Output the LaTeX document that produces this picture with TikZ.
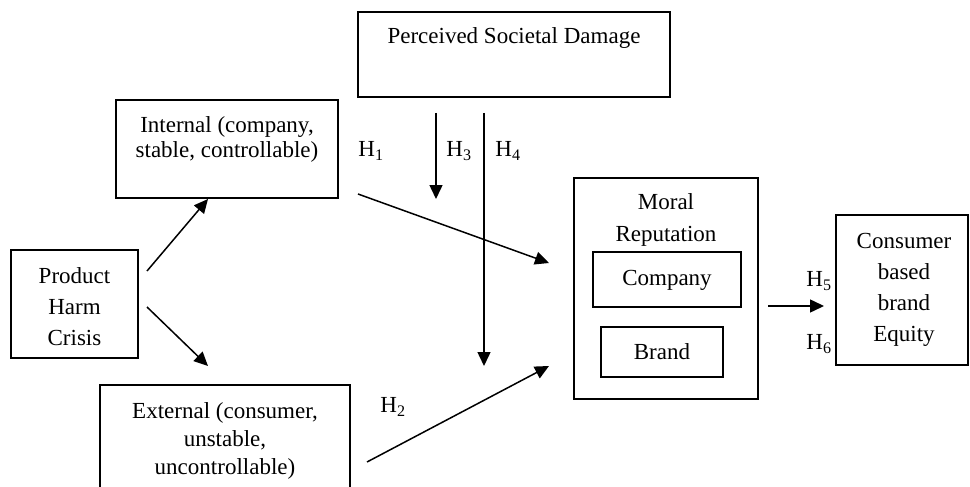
\documentclass[tikz,border=0pt]{standalone}
\usepackage{fontspec}
\setmainfont{Liberation Serif}
\usetikzlibrary{arrows.meta}
\begin{document}
\begin{tikzpicture}[x=1pt,y=-1pt,
  box/.style={draw,line width=1.5pt,inner sep=0pt},
  txt/.style={inner sep=0pt,align=center,font=\fontsize{23}{#1}\selectfont},
  txt/.default=27,
  hlab/.style={inner sep=0pt,font=\fontsize{23}{27}\selectfont},
  arr/.style={line width=1.5pt,-{Triangle[length=14pt,width=13pt]}}]
\clip (0,0) rectangle (970,487);
% boxes
\node[box,minimum width=312pt,minimum height=85pt] (psd) at (514,54.5) {};
\node[txt] (psdT) at (514,38) {Perceived Societal Damage};
\node[box,minimum width=222pt,minimum height=98pt] (int) at (227,149) {};
\node[txt=25] (intT) at (227,139) {Internal (company,\\stable, controllable)};
\node[box,minimum width=127pt,minimum height=108pt] (prod) at (74.5,304) {};
\node[txt=31] (prodT) at (74.5,307) {Product\\Harm\\Crisis};
\node[box,minimum width=250pt,minimum height=108pt] (ext) at (225,439) {};
\node[txt=28] (extT) at (225,441) {External (consumer,\\unstable,\\uncontrollable)};
\node[box,minimum width=184pt,minimum height=221pt] (moral) at (666,288.5) {};
\node[txt=32] (moralT) at (666,220) {Moral\\Reputation};
\node[box,minimum width=148pt,minimum height=55pt] (comp) at (667,279.5) {};
\node[txt] (compT) at (667,280) {Company};
\node[box,minimum width=122pt,minimum height=50pt] (brand) at (662,352) {};
\node[txt] (brandT) at (662,352) {Brand};
\node[box,minimum width=132pt,minimum height=150pt] (cbbe) at (902,290) {};
\node[txt=31] (cbbeT) at (904,290) {Consumer\\based\\brand\\Equity};
% labels
\node[hlab] (h1) at (371,151) {H\textsubscript{1}};
\node[hlab] (h3) at (459,151) {H\textsubscript{3}};
\node[hlab] (h4) at (508,151) {H\textsubscript{4}};
\node[hlab] (h2) at (393,407) {H\textsubscript{2}};
\node[hlab] (h5) at (819,281) {H\textsubscript{5}};
\node[hlab] (h6) at (819,344) {H\textsubscript{6}};
% connector end points
\coordinate (a1s) at (147,271);
\coordinate (a1e) at (208,199);
\coordinate (a2s) at (147,307);
\coordinate (a2e) at (208,366);
\coordinate (h1s) at (358,194);
\coordinate (h1e) at (549,263);
\coordinate (h3s) at (436,113);
\coordinate (h3e) at (436,199);
\coordinate (h4s) at (484,113);
\coordinate (h4e) at (484,366);
\coordinate (h2s) at (367,462);
\coordinate (h2e) at (549,366);
\coordinate (h5s) at (768,306);
\coordinate (h5e) at (824,306);
% connectors
\draw[arr] (a1s) -- (a1e);
\draw[arr] (a2s) -- (a2e);
\draw[arr] (h1s) -- (h1e);
\draw[arr] (h3s) -- (h3e);
\draw[arr] (h4s) -- (h4e);
\draw[arr] (h2s) -- (h2e);
\draw[arr] (h5s) -- (h5e);
\end{tikzpicture}
\end{document}
